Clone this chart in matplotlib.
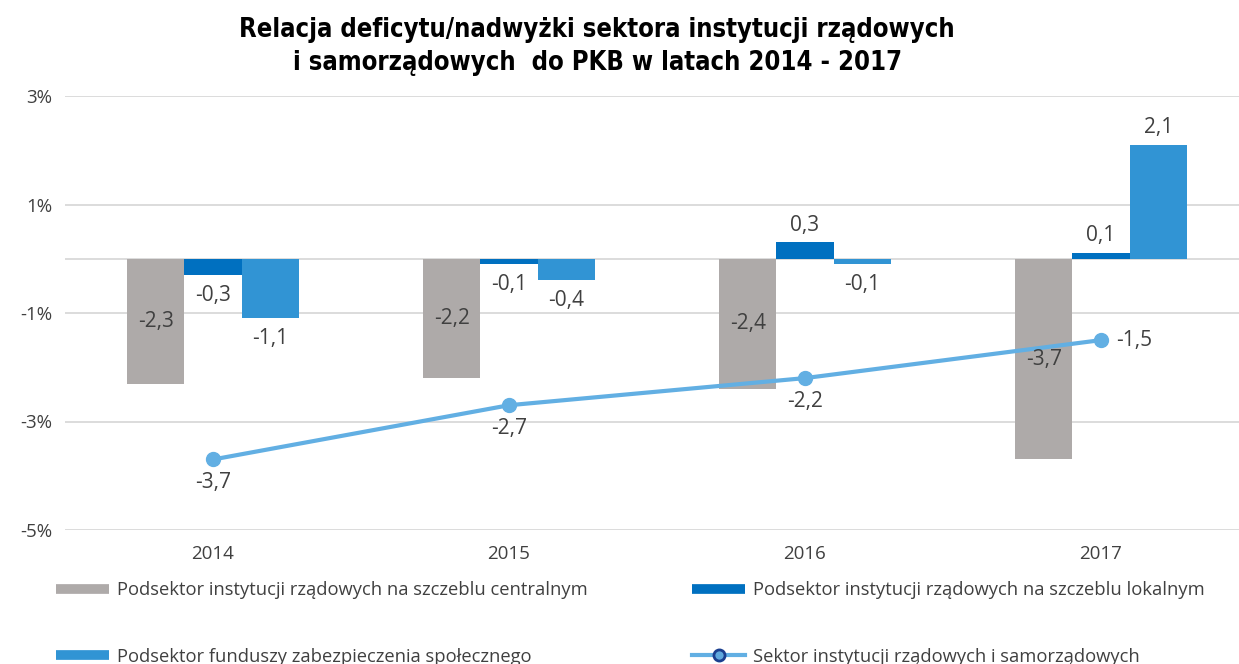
import matplotlib.pyplot as plt
from matplotlib.lines import Line2D
import numpy as np

# data
years = ['2014', '2015', '2016', '2017']
central = [-2.3, -2.2, -2.4, -3.7]
local = [-0.3, -0.1, 0.3, 0.1]
social = [-1.1, -0.4, -0.1, 2.1]
total = [-3.7, -2.7, -2.2, -1.5]

labels = ['Podsektor instytucji rządowych na szczeblu centralnym',
          'Podsektor instytucji rządowych na szczeblu lokalnym',
          'Podsektor funduszy zabezpieczenia społecznego',
          'Sektor instytucji rządowych i samorządowych']
yticks = [-5, -3, -1, 1, 3]

c_gray = '#aeaaa9'
c_dark = '#0070c0'
c_light = '#3194d4'
c_line = '#62afe3'
txt = '#404040'

plt.rcParams['font.family'] = ['Open Sans', 'DejaVu Sans']

def fmt(v):
    return f'{v:.1f}'.replace('.', ',')

fig = plt.figure(figsize=(12.39, 6.64), dpi=100)
ax = fig.add_axes([65/1239, 134/664, 1 - 65/1239, 434/664])

x = np.arange(len(years))
w = 0.193
ax.bar(x - w, central, w, color=c_gray, zorder=2)
ax.bar(x, local, w, color=c_dark, zorder=2)
ax.bar(x + w, social, w, color=c_light, zorder=2)
ax.plot(x, total, color=c_line, lw=3, marker='o', ms=10, zorder=3)

# labels
fs = 15
for i in range(len(years)):
    ax.text(x[i] - w, central[i] / 2, fmt(central[i]), ha='center', va='center',
            fontsize=fs, color=txt, zorder=4)
    for xx, v in [(x[i], local[i]), (x[i] + w, social[i])]:
        if v >= 0:
            ax.annotate(fmt(v), (xx, v), xytext=(0, 5), textcoords='offset points',
                        ha='center', va='bottom', fontsize=fs, color=txt)
        else:
            ax.annotate(fmt(v), (xx, v), xytext=(0, -7), textcoords='offset points',
                        ha='center', va='top', fontsize=fs, color=txt)
    if i == len(years) - 1:
        ax.annotate(fmt(total[i]), (x[i], total[i]), xytext=(11, 0), textcoords='offset points',
                    ha='left', va='center', fontsize=fs, color=txt)
    else:
        ax.annotate(fmt(total[i]), (x[i], total[i]), xytext=(0, -9), textcoords='offset points',
                    ha='center', va='top', fontsize=fs, color=txt)

ax.set_ylim(-5, 3)
ax.set_xlim(-0.5, (1239 - 213) / 296)
ax.set_yticks(yticks)
ax.set_yticklabels([f'{t}%' for t in yticks], fontsize=13.5, color=txt)
ax.set_xticks(x)
ax.set_xticklabels(years, fontsize=13.5, color=txt)
ax.tick_params(axis='both', length=0)
ax.tick_params(axis='y', pad=9)
ax.tick_params(axis='x', pad=11)
for s in ax.spines.values():
    s.set_visible(False)
ax.grid(axis='y', color='#d9d9d9', lw=1.3, zorder=0)
ax.axhline(0, color='#d9d9d9', lw=1.3, zorder=1)

# title
fig.text(0.482, 0.975, 'Relacja deficytu/nadwyżki sektora instytucji rządowych\ni samorządowych  do PKB w latach 2014 - 2017',
         ha='center', va='top', fontsize=18.4, fontweight='bold', color='black',
         family=['DejaVu Sans Condensed', 'Liberation Sans Narrow', 'DejaVu Sans'],
         fontstretch='condensed', linespacing=1.38)

# legend
h_gray = Line2D([], [], color=c_gray, lw=7, solid_capstyle='butt')
h_dark = Line2D([], [], color=c_dark, lw=7, solid_capstyle='butt')
h_light = Line2D([], [], color=c_light, lw=7, solid_capstyle='butt')
h_line = Line2D([], [], color=c_line, lw=3, marker='o', ms=8, mfc='#5fa8dd', mec='#1a3f8f', mew=2)

leg_kw = dict(frameon=False, fontsize=13.2, handlelength=2.9, handletextpad=0.4,
              labelspacing=2.65, labelcolor=txt, borderpad=0, loc='upper left')
leg1 = fig.legend([h_gray, h_light], [labels[0], labels[2]],
                  bbox_to_anchor=(47/1239, 1 - 572/664), **leg_kw)
leg2 = fig.legend([h_dark, h_line], [labels[1], labels[3]],
                  bbox_to_anchor=(683/1239, 1 - 572/664), **leg_kw)

fig.savefig('out.png', dpi=100)
